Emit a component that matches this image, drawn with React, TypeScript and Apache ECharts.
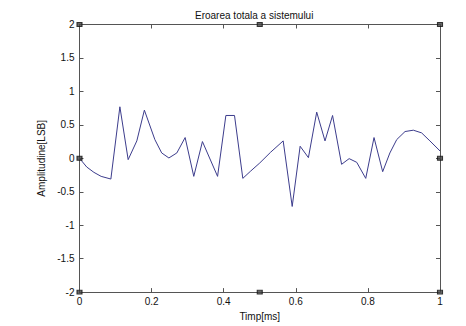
import React, { useEffect, useRef } from "react";
import * as echarts from "echarts";

const timeMs = [
  0, 0.02, 0.04, 0.06, 0.087, 0.112, 0.135, 0.159, 0.18, 0.209, 0.228, 0.248, 0.27, 0.293, 0.317, 0.341,
  0.383, 0.406, 0.43, 0.453, 0.475, 0.5, 0.53, 0.565, 0.59, 0.612, 0.635, 0.658, 0.681, 0.702, 0.727,
  0.748, 0.769, 0.794, 0.817, 0.841, 0.861, 0.88, 0.903, 0.926, 0.949, 0.972, 1.0,
];
const amplitude = [
  0, -0.13, -0.21, -0.27, -0.31, 0.77, -0.02, 0.26, 0.72, 0.28, 0.08, 0.005, 0.08, 0.31, -0.27, 0.25,
  -0.27, 0.64, 0.64, -0.3, -0.19, -0.07, 0.09, 0.26, -0.72, 0.18, 0.01, 0.69, 0.26, 0.64, -0.09,
  -0.005, -0.06, -0.3, 0.31, -0.2, 0.08, 0.28, 0.4, 0.42, 0.38, 0.26, 0.11,
];
const markerX = [0, 0.5, 1, 0, 0.5, 1, 0, 1];
const markerY = [2, 2, 2, -2, -2, -2, 0, 0];

const titleText = "Eroarea totala a sistemului";
const xName = "Timp[ms]";
const yName = "Amplitudine[LSB]";

export default function App() {
  const ref = useRef<HTMLDivElement>(null);
  useEffect(() => {
    if (!ref.current) return;
    const chart = echarts.init(ref.current, null, { renderer: "svg" });
    const font = "Liberation Sans, Arial, sans-serif";
    const axisLine = { show: true, onZero: false, lineStyle: { color: "#555", width: 1 } };
    const axisTick = { show: true, inside: true, length: 4, lineStyle: { color: "#555" } };
    chart.setOption({
      animation: false,
      backgroundColor: "#fff",
      title: {
        text: titleText,
        left: 190,
        top: 5,
        textStyle: { fontSize: 10, fontWeight: "normal", color: "#111", fontFamily: font },
      },
      grid: { left: 79.5, right: 26, top: 24.5, bottom: 32.5 },
      xAxis: [
        {
          type: "value",
          min: 0,
          max: 1,
          interval: 0.2,
          position: "bottom",
          name: xName,
          nameLocation: "middle",
          nameGap: 14,
          nameTextStyle: { fontSize: 10, color: "#111", fontFamily: font },
          axisLine,
          axisTick,
          splitLine: { show: false },
          axisLabel: {
            fontSize: 10,
            color: "#111",
            fontFamily: font,
            margin: 4,
            formatter: (v: number) => String(Math.round(v * 10) / 10),
          },
        },
        {
          type: "value",
          min: 0,
          max: 1,
          interval: 0.2,
          position: "top",
          axisLine,
          axisTick,
          splitLine: { show: false },
          axisLabel: { show: false },
        },
      ],
      yAxis: [
        {
          type: "value",
          min: -2,
          max: 2,
          interval: 0.5,
          position: "left",
          name: yName,
          nameLocation: "middle",
          nameGap: 25,
          nameTextStyle: { fontSize: 10, color: "#111", fontFamily: font },
          axisLine,
          axisTick,
          splitLine: { show: false },
          axisLabel: { fontSize: 10, color: "#111", fontFamily: font, margin: 5 },
        },
        {
          type: "value",
          min: -2,
          max: 2,
          interval: 0.5,
          position: "right",
          axisLine,
          axisTick,
          splitLine: { show: false },
          axisLabel: { show: false },
        },
      ],
      series: [
        {
          type: "line",
          data: timeMs.map((t, i) => [t, amplitude[i]]),
          showSymbol: false,
          symbol: "none",
          lineStyle: { color: "#3c3c8c", width: 1 },
        },
        {
          type: "scatter",
          data: markerX.map((x, i) => [x, markerY[i]]),
          symbol: "rect",
          symbolSize: [5, 4],
          clip: false,
          itemStyle: { color: "#444", borderColor: "#111", borderWidth: 1 },
          z: 5,
        },
      ],
    });
    return () => chart.dispose();
  }, []);
  return (
    <div
      ref={ref}
      style={{ position: "absolute", left: 0, top: 0, width: 466, height: 326, background: "#fff" }}
    />
  );
}
